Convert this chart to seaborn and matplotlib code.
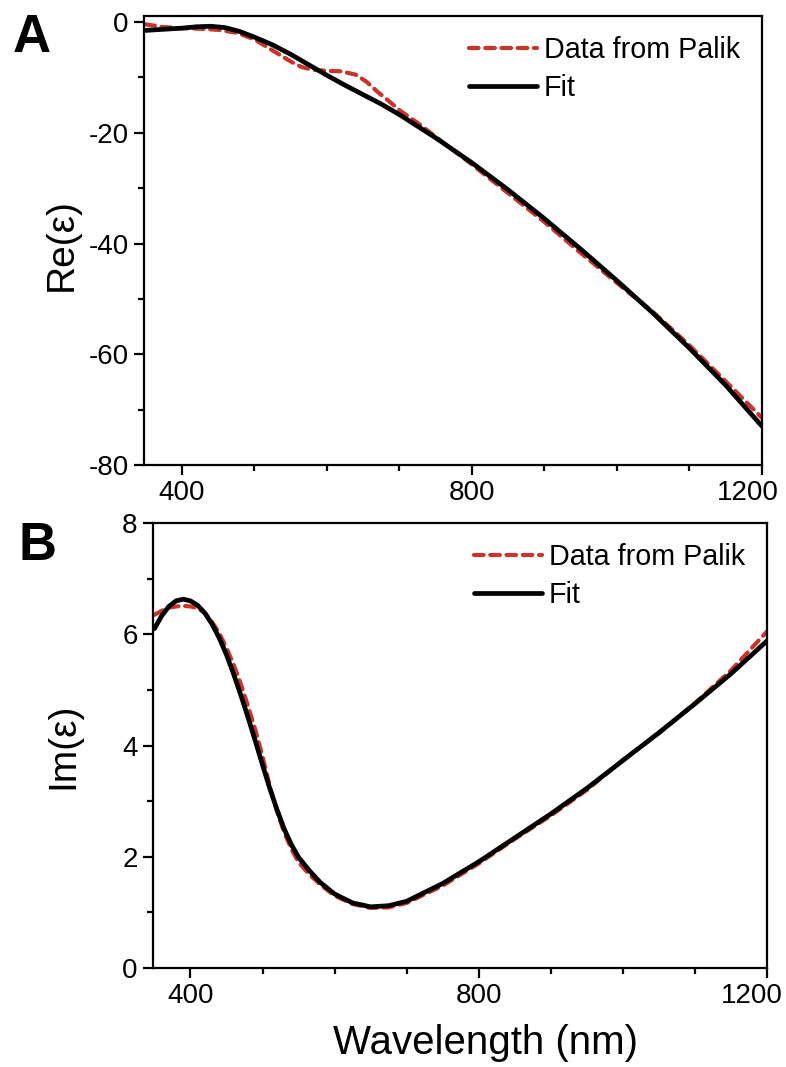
import numpy as np
import pandas as pd
import matplotlib
matplotlib.use("Agg")
import matplotlib.pyplot as plt
from matplotlib.ticker import MultipleLocator
from matplotlib.transforms import ScaledTranslation
import seaborn as sns

# ---------------- data ----------------
wl_re_fit = [350, 375, 400, 420, 440, 460, 480, 500, 525, 550, 575, 600, 625, 650,
             675, 700, 750, 800, 850, 900, 950, 1000, 1050, 1100, 1150, 1200]
re_fit = [-1.5, -1.3, -1.1, -0.85, -0.75, -1.0, -1.7, -2.7, -4.1, -5.8, -7.7, -9.6, -11.4, -13.1,
          -14.8, -16.7, -20.9, -25.4, -30.3, -35.5, -41.0, -46.7, -52.6, -58.9, -65.6, -73.0]

wl_re_data = [350, 375, 400, 425, 450, 475, 500, 525, 550, 565, 580, 600, 620, 640, 655,
              670, 685, 700, 725, 750, 800, 850, 900, 950, 1000, 1050, 1100, 1150, 1200]
re_data = [-0.4, -0.9, -1.1, -1.2, -1.4, -1.9, -3.1, -5.1, -7.1, -8.1, -8.6, -8.8, -8.9, -9.5, -10.8,
           -12.6, -14.2, -15.9, -18.2, -20.7, -25.7, -30.9, -36.1, -41.7, -47.1, -52.4, -58.4, -64.9, -71.5]

wl_im_fit = [350, 360, 370, 380, 390, 400, 410, 420, 430, 440, 450, 460, 470, 480, 490, 500,
             510, 520, 530, 540, 550, 565, 580, 600, 625, 650, 675, 700, 750, 800, 850, 900,
             950, 1000, 1050, 1100, 1150, 1200]
im_fit = [6.10, 6.33, 6.50, 6.60, 6.63, 6.60, 6.52, 6.38, 6.18, 5.93, 5.63, 5.28, 4.90, 4.50, 4.08, 3.65,
          3.23, 2.85, 2.50, 2.22, 1.99, 1.75, 1.54, 1.33, 1.17, 1.10, 1.12, 1.20, 1.52, 1.91, 2.34, 2.77,
          3.23, 3.73, 4.23, 4.75, 5.29, 5.88]

wl_im_data = [350, 360, 370, 380, 390, 400, 410, 420, 430, 440, 450, 460, 470, 480, 490, 500,
              510, 520, 530, 540, 550, 565, 580, 600, 625, 650, 675, 700, 750, 800, 850, 900,
              950, 1000, 1050, 1100, 1150, 1200]
im_data = [6.35, 6.42, 6.48, 6.50, 6.51, 6.50, 6.47, 6.38, 6.22, 6.02, 5.75, 5.45, 5.10, 4.70, 4.28, 3.80,
           3.27, 2.82, 2.44, 2.14, 1.90, 1.68, 1.50, 1.30, 1.15, 1.08, 1.09, 1.17, 1.48, 1.88, 2.32, 2.74,
           3.20, 3.74, 4.22, 4.76, 5.35, 6.05]

labels = ["Data from Palik", "Fit"]
xticks = [400, 800, 1200]

RED = "#c8352b"

sns.set_theme(style="ticks")
plt.rcParams["font.family"] = ["Liberation Sans", "DejaVu Sans"]
plt.rcParams["axes.unicode_minus"] = False
plt.rcParams["text.color"] = "black"
plt.rcParams["axes.labelcolor"] = "black"
plt.rcParams["xtick.color"] = "black"
plt.rcParams["ytick.color"] = "black"
plt.rcParams["axes.linewidth"] = 1.6

fig = plt.figure(figsize=(7.86, 10.67), dpi=100)
axA = fig.add_axes([144/786, 1-465/1067, (762-144)/786, (465-16)/1067])
axB = fig.add_axes([153/786, 1-968/1067, (767-153)/786, (968-523)/1067])

def draw(ax, wl_d, y_d, wl_f, y_f):
    dd = pd.DataFrame({"wl": wl_d, "v": y_d})
    ff = pd.DataFrame({"wl": wl_f, "v": y_f})
    sns.lineplot(data=dd, x="wl", y="v", ax=ax, color=RED, lw=3.0,
                 label=labels[0])
    ax.lines[-1].set_dashes([2.3, 1.6])
    ax.lines[-1].set_dash_capstyle("round")
    ax.lines[-1].set_dash_joinstyle("round")
    sns.lineplot(data=ff, x="wl", y="v", ax=ax, color="black", lw=3.4,
                 label=labels[1])
    ax.lines[-1].set_solid_joinstyle("round")
    ax.set_xlim(348, 1200)
    ax.set_xticks(xticks)
    ax.xaxis.set_minor_locator(MultipleLocator(100))
    ax.tick_params(axis="both", which="major", direction="out", length=7,
                   width=1.6, labelsize=20, pad=4, colors="black")
    ax.tick_params(axis="both", which="minor", direction="out", length=4.5,
                   width=1.6)
    ax.tick_params(top=False, right=False, which="both")
    for s in ax.spines.values():
        s.set_color("black")
        s.set_linewidth(1.6)
    leg = ax.legend(loc="upper right", frameon=False, fontsize=20.7,
                    handlelength=2.35, handletextpad=0.25, labelspacing=0.35,
                    borderaxespad=0.3, bbox_to_anchor=(0.997, 1.0))
    for t in leg.get_texts():
        t.set_color("black")
    return leg

def shift_last_xlabel(ax, dx_px):
    fig.canvas.draw()
    lab = ax.get_xticklabels()[-1]
    lab.set_transform(lab.get_transform() + ScaledTranslation(dx_px/100, 0, fig.dpi_scale_trans))

draw(axA, wl_re_data, re_data, wl_re_fit, re_fit)
axA.set_ylim(-80, 1.1)
axA.set_yticks([0, -20, -40, -60, -80])
axA.yaxis.set_minor_locator(MultipleLocator(10))
axA.set_xlabel("")
axA.set_ylabel("Re(\u03b5)", fontsize=28)
axA.yaxis.set_label_coords((80-144)/618, 0.49)

draw(axB, wl_im_data, im_data, wl_im_fit, im_fit)
axB.set_ylim(0, 8)
axB.set_yticks([0, 2, 4, 6, 8])
axB.yaxis.set_minor_locator(MultipleLocator(1))
axB.set_ylabel("Im(\u03b5)", fontsize=28)
axB.yaxis.set_label_coords((81-153)/614, 0.50)
axB.set_xlabel("Wavelength (nm)", fontsize=29)
axB.xaxis.set_label_coords((485-153)/(767-153), -0.125)
axB.xaxis.label.set_va("top")

shift_last_xlabel(axA, -14)
shift_last_xlabel(axB, -15)

fig.text(13/786, 1-52/1067, "A", fontsize=38, fontweight="bold", ha="left", va="baseline", color="black")
fig.text(18/786, 1-560/1067, "B", fontsize=38, fontweight="bold", ha="left", va="baseline", color="black")

fig.savefig("out.png", dpi=100, facecolor="white")
